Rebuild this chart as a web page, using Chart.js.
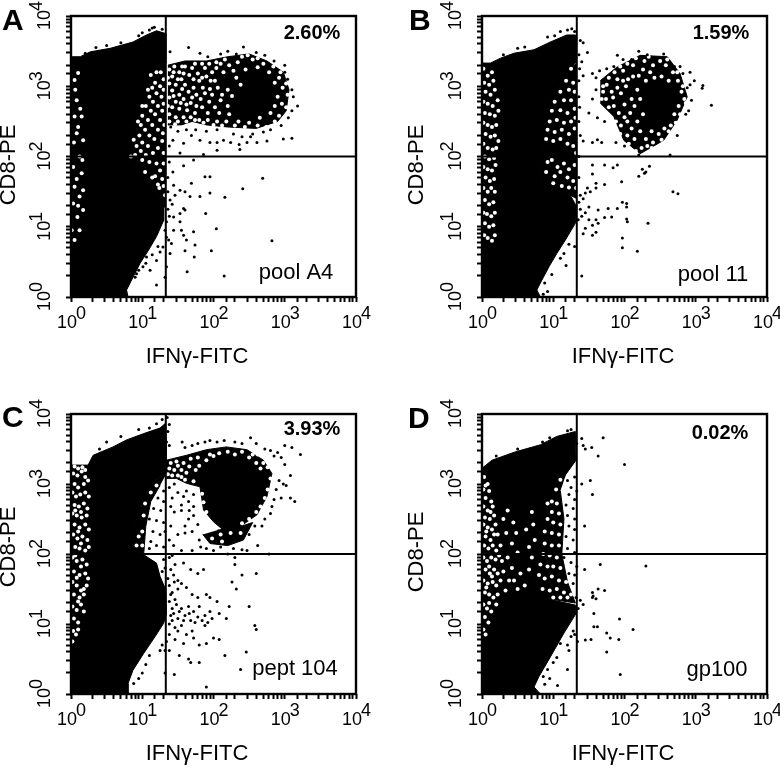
<!DOCTYPE html>
<html>
<head>
<meta charset="utf-8">
<title>IFN-gamma dot plots</title>
<script src="https://cdn.jsdelivr.net/npm/chart.js@4"></script>
<style>
    html, body { margin: 0; background: #fff; }
    body { position: relative; width: 780px; height: 768px; overflow: hidden; }
    canvas { position: absolute; }
    .letter { position: absolute; font: bold 30px "Liberation Sans", Arial, sans-serif; line-height: 30px; color: #000; }
</style>
</head>
<body>
<canvas id="panelA" style="left:0;top:0"></canvas>
<canvas id="panelB" style="left:400px;top:0"></canvas>
<canvas id="panelC" style="left:0;top:398px"></canvas>
<canvas id="panelD" style="left:400px;top:398px"></canvas>
<div class="letter" style="left:2px;top:5px">A</div>
<div class="letter" style="left:409px;top:5px">B</div>
<div class="letter" style="left:2px;top:402px">C</div>
<div class="letter" style="left:408px;top:403px">D</div>
<script>
// all coordinates below are log10 fluorescence: [IFNg-FITC, CD8-PE]
// mass = solid population outline, zone = mottled area, holes = white gaps in them, dots = single events
const tickDecades = [0, 1, 2, 3, 4];
const gateFitc = 21.4;
const gatePe = 100;
const xTitle = 'IFNγ-FITC';
const yTitle = 'CD8-PE';
const percents = ['2.60%', '1.59%', '3.93%', '0.02%'];
const stimuli = ['pool A4', 'pool 11', 'pept 104', 'gp100'];

// --- panel A ---
const massA = [[-0.04,0],[-0.04,3.42],[0.13,3.42],[0.27,3.49],[0.55,3.54],[0.87,3.63],[1.06,3.73],[1.2,3.79],[1.33,3.75],[1.33,3.33],[1.2,3.25],[1.11,3.09],[1.06,2.85],[0.97,2.61],[0.92,2.33],[0.85,2.09],[0.8,1.9],[0.97,1.81],[1.11,1.66],[1.2,1.47],[1.3,1.28],[1.3,1.09],[1.2,0.86],[1.09,0.67],[0.97,0.48],[0.85,0.24],[0.78,0.1],[0.8,0]];
const zoneA1 = [[1.33,3.33],[1.2,3.25],[1.11,3.09],[1.06,2.85],[0.97,2.61],[0.92,2.33],[0.85,2.09],[0.8,1.9],[0.97,1.81],[1.11,1.66],[1.2,1.47],[1.3,1.28],[1.33,1.28]];
const zoneA2 = [[1.36,3.3],[1.6,3.36],[1.9,3.36],[2.2,3.42],[2.5,3.46],[2.75,3.36],[2.98,3.2],[3.06,2.95],[3.02,2.65],[2.9,2.5],[2.6,2.4],[2.2,2.42],[1.9,2.45],[1.7,2.5],[1.55,2.45],[1.36,2.45]];
const holesA = [[0.05,3.09],[0.1,3.19],[0.08,2.8],[0.05,2.57],[0.15,2.57],[0.1,2.42],[0.08,2.33],[0.17,2.23],[0.12,2],[0.03,1.85],[0.15,1.76],[0.05,1.57],[0.12,1.43],[0.03,1.33],[0.17,1.24],[0.09,1.14],[0.01,0.95],[0.12,0.95],[0.05,0.81],[0.06,2.95],[0.13,2.68],[0.04,2.2],[0.16,1.95],[0.08,1.68],[0.17,1.52],[0.1,1.3],
[1.26,3.2],[1.3,3.1],[1.18,3.05],[1.25,3],[1.14,2.98],[1.3,2.95],[1.2,2.9],[1.1,2.85],[1.27,2.85],[1.15,2.78],[1.3,2.75],[1.05,2.72],[1.22,2.72],[1.12,2.65],[1.28,2.65],[1,2.58],[1.18,2.6],[1.08,2.52],[1.25,2.52],[1.31,2.45],[0.98,2.45],[1.14,2.45],[1.04,2.38],[1.22,2.38],[1.29,2.33],[0.96,2.3],[1.1,2.3],[1.17,2.25],[1.28,2.22],[1,2.2],[0.92,2.15],[1.08,2.15],[1.22,2.12],[0.98,2.08],[1.15,2.05],[1.3,2.05],[0.9,2.02],[1.05,2.02],[1,1.95],[1.1,1.92],[1.2,1.9],[1.3,1.9],[1.18,1.72],[1.28,1.68],[1.22,1.6],[1.3,1.58],[1.25,1.8],[1.32,1.45],
[1.38,3.24],[1.45,3.28],[1.52,3.2],[1.6,3.28],[1.7,3.26],[1.78,3.18],[1.88,3.26],[1.98,3.2],[2.1,3.32],[1.42,3.14],[1.55,3.1],[1.66,3.16],[1.8,3.08],[1.9,3.14],[2.02,3.08],[2.14,3.2],[1.38,3.04],[1.47,3.02],[1.6,3.02],[1.72,2.98],[1.85,2.98],[1.95,2.96],[2.06,2.98],[1.42,2.94],[1.52,2.88],[1.65,2.92],[1.76,2.88],[1.88,2.9],[1.38,2.84],[1.47,2.78],[1.58,2.82],[1.68,2.76],[1.42,2.7],[1.52,2.68],[1.63,2.66],[1.74,2.62],[1.38,2.6],[1.47,2.56],[1.58,2.56],[1.68,2.56],[1.8,2.52],[1.92,2.52],[2.05,2.5],[2.18,2.5],[1.94,2.78],[2.02,2.7],[1.92,2.62],[2.08,2.62],[2.1,2.8],[2.2,2.95],[2.32,3.12],[2.45,3.24],[2.62,3.27],[2.78,3.2],[2.86,3.05],[2.9,2.85],[2.86,2.72],[2.8,2.62],[2.65,2.55],[2.2,2.72],[2.26,2.86],[2.38,3.02],[2.12,2.88],[2.22,3.3],[2.34,3.34],[2.55,3.38],[2.7,3.32],[2.92,3.12],[2.97,2.98],[2.96,2.75],[2.5,2.48],[2.35,2.5],[2.22,2.6],[2.28,3.22]];
const edgeHolesA = [[1.44,3.2],[1.56,3.28],[1.74,3.32],[1.84,3.32],[1.94,3.32],[2.04,3.26],[1.58,3.18],[1.72,3.1],[1.84,3.12],[1.96,3.08],[1.5,3.1],[1.36,3.12],[1.44,2.86],[1.56,2.96],[1.7,2.84],[1.82,2.82],[1.98,2.88],[1.54,2.76],[1.62,2.74],[1.76,2.72],[1.84,2.7],[1.36,2.72],[1.5,2.5],[1.62,2.5],[1.74,2.52],[1.86,2.48],[2,2.45],[2.12,2.44],[2.3,2.44],[2.44,2.42],[2.62,2.44],[2.74,2.42],[2.86,2.5],[2.92,2.58],[3.02,2.7],[3.04,2.88],[3.02,3.04],[2.94,3.2],[2.84,3.28],[2.4,3.42],[2.48,3.44],[2.62,3.4],[2.16,3.38],[2.04,3.34],[1.46,2.46],[1.38,2.5],[1.12,3.16],[1.2,3.2],[1.08,2.95],[1,2.72],[0.94,2.5],[0.88,2.24],[0.84,2],[1.04,1.78],[1.14,1.7],[1.24,1.55]];
const dotsA = [[1.39,3.49],[1.65,3.55],[2.42,3.56],[1.81,3.47],[1.92,3.42],[2.1,3.46],[2.2,3.5],[2.32,3.46],[2.6,3.48],[2.72,3.44],[2.85,3.36],[3,3.3],[3,3.2],[3.04,3.1],[3.1,2.95],[3.12,2.85],[3.18,2.72],[3.1,2.65],[3.05,2.55],[2.95,2.44],[1.4,2.42],[1.5,2.36],[1.62,2.38],[1.75,2.38],[1.9,2.36],[2.05,2.38],[2.28,2.32],[2.4,2.28],[2.55,2.32],[2.7,2.35],[2.8,2.38],[1.43,2.23],[1.58,2.19],[1.69,2.3],[1.81,2.23],[1.95,2.2],[2.05,2.2],[2.14,2.23],[2.24,2.2],[2.36,2.17],[2.47,2.2],[2.61,2.2],[2.75,2.22],[2.98,2.25],[3.1,2.26],[1.53,2.05],[1.86,2.03],[2.05,2.09],[1.38,2.15],[2.37,2.1],[2.52,2.28],[2.69,1.69],[2.41,1.54],[2.16,1.42],[1.95,1.48],[1.89,1.19],[2.04,0.97],[1.97,0.66],[2.82,0.8],[2.15,0.3],[1.2,0.17],[1.63,0.36],[1.73,0.57],[1.6,0.66],[1.74,0.74],[1.72,0.93],[1.58,0.88],[1.62,0.81],[1.55,0.95],[1.53,1.07],[1.44,0.95],[1.41,0.76],[1.39,0.62],[1.37,0.81],[1.58,1.26],[1.6,1.24],[1.53,1.19],[1.44,1.14],[1.39,1.38],[1.46,1.45],[1.44,1.59],[1.53,1.52],[1.6,1.5],[1.69,1.62],[1.67,1.43],[1.81,1.43],[1.43,1.78],[1.58,1.87],[1.72,1.95],[1.95,1.71],[1.88,1.71],[1.34,1.07],[1.32,0.95],[1.29,0.71],[1.25,0.64],[1.2,0.52],[1.06,0.57],[1.01,0.43],[0.92,0.33],[0.9,0.28],[1.11,0.38],[1.34,0.43],[1.32,0.28],[1.36,1.25],[1.38,1.15],[1.42,1.32],[1.36,1.5],[1.36,1.7],[1.38,1.92],[1.34,0.85],[1.22,0.72],[1.14,0.6],[1.05,0.48],[0.95,0.38],
[0.2,3.47],[0.35,3.55],[0.5,3.58],[0.7,3.62],[0.95,3.72],[1,3.76],[1.1,3.8],[1.17,3.84],[1.28,3.81],[1.14,3.83]];

// --- panel B ---
const massB = [[-0.03,0],[-0.03,3.33],[0.12,3.33],[0.26,3.4],[0.45,3.47],[0.73,3.52],[0.96,3.63],[1.19,3.73],[1.31,3.73],[1.31,3.33],[1.19,3.18],[1.1,3.04],[0.96,2.85],[0.89,2.61],[0.87,2.23],[0.82,1.85],[0.84,1.62],[1.01,1.5],[1.24,1.45],[1.33,1.28],[1.31,1.05],[1.17,0.81],[1.05,0.62],[0.94,0.43],[0.84,0.24],[0.77,0.1],[0.82,0]];
const zoneB1 = [[1.33,3.33],[1.19,3.18],[1.1,3.04],[0.96,2.85],[0.89,2.61],[0.87,2.23],[0.82,1.85],[0.84,1.62],[1.01,1.5],[1.24,1.45],[1.33,1.4]];
const zoneB2 = [[1.66,3.08],[1.89,3.27],[2.22,3.44],[2.6,3.42],[2.78,3.18],[2.88,2.85],[2.74,2.52],[2.55,2.23],[2.22,2.04],[1.99,2.23],[1.85,2.57],[1.66,2.76]];
const holesB = [[0.02,3.25],[0.08,3.15],[0.14,3.2],[0.03,3.05],[0.1,3.02],[0.16,3.08],[0.05,2.92],[0.12,2.88],[0.18,2.95],[0.02,2.78],[0.08,2.75],[0.15,2.72],[0.22,2.8],[0.04,2.62],[0.11,2.6],[0.18,2.58],[0.23,2.65],[0.02,2.48],[0.08,2.45],[0.14,2.42],[0.2,2.45],[0.05,2.32],[0.12,2.28],[0.18,2.3],[0.23,2.22],[0.02,2.18],[0.08,2.12],[0.15,2.1],[0.2,2.12],[0.04,2],[0.1,1.96],[0.17,1.98],[0.02,1.85],[0.08,1.82],[0.14,1.8],[0.19,1.88],[0.05,1.7],[0.11,1.65],[0.17,1.68],[0.02,1.55],[0.08,1.5],[0.13,1.55],[0.18,1.5],[0.04,1.38],[0.1,1.32],[0.16,1.35],[0.02,1.2],[0.07,1.18],[0.13,1.15],[0.18,1.2],[0.04,1.05],[0.1,1],[0.16,1.02],[0.03,0.88],[0.08,0.84],[0.14,0.8],[0.18,0.88],
[1.25,3.25],[1.18,3.08],[1.28,3.05],[1.1,2.92],[1.22,2.95],[1.3,2.92],[1.02,2.78],[1.15,2.8],[1.25,2.8],[0.98,2.65],[1.1,2.66],[1.2,2.62],[1.3,2.68],[0.95,2.5],[1.05,2.52],[1.15,2.48],[1.25,2.5],[1.31,2.55],[0.92,2.38],[1.02,2.35],[1.12,2.38],[1.22,2.32],[1.3,2.4],[0.9,2.25],[1,2.22],[1.1,2.25],[1.2,2.18],[1.28,2.15],[1.32,2.05],[0.92,1.92],[0.98,1.95],[1.06,1.85],[1.15,1.9],[1.22,1.82],[1.3,1.88],[0.9,1.78],[1.02,1.72],[1.1,1.78],[1.2,1.7],[1.28,1.65],[1.32,1.55],[1,1.62],[1.12,1.58],[1.22,1.56],
[1.75,3.02],[1.82,2.92],[1.9,3.1],[1.98,3.22],[2.05,3.1],[2.12,3.3],[2.2,3.15],[2.28,3.36],[2.4,3.3],[2.5,3.36],[2.58,3.3],[2.68,3.2],[2.75,3.08],[1.74,2.82],[1.85,2.72],[1.95,2.9],[2.02,3],[2.1,2.82],[2.18,2.95],[2.3,3.08],[2.42,3.12],[2.52,3.14],[2.62,3.08],[2.8,2.92],[2.84,2.82],[1.92,2.62],[2,2.74],[2.08,2.62],[2.14,2.72],[2.22,2.82],[2.76,2.72],[2.7,2.6],[1.95,2.44],[2.04,2.5],[2.1,2.4],[2.18,2.5],[2.26,2.6],[2.65,2.44],[2.56,2.4],[2.48,2.32],[2.04,2.3],[2.14,2.25],[2.22,2.36],[2.3,2.25],[2.4,2.2],[2.38,2.36],[2.24,2.12],[2.32,2.15]];
const edgeHolesB = [[1.7,3],[1.78,3.12],[1.86,3.2],[1.94,3.28],[2.04,3.32],[2.16,3.4],[2.34,3.42],[2.6,3.38],[2.74,3.2],[2.82,3],[2.86,2.76],[2.78,2.6],[2.72,2.48],[2.62,2.36],[2.52,2.24],[2.38,2.12],[2.16,2.08],[2.06,2.18],[1.94,2.32],[1.88,2.5],[1.78,2.7],[1.68,2.82],[1.7,2.92],[1.84,2.84],[1.9,2.98],[1.98,3.08],[2.12,3.14],[2.26,3.24],[2.36,3.2],[2,2.56]];
const dotsB = [[1.9,3.44],[2.2,3.5],[2.32,3.45],[1.98,3.38],[2.1,3.38],[2.55,3.46],[2.7,3.28],[1.55,3.18],[1.65,3.22],[1.75,3.25],[1.85,3.28],[1.6,3.12],[2.82,3.18],[2.92,3.2],[2.78,3.28],[2.98,3.08],[3.1,3.01],[3.09,2.97],[3.22,2.73],[2.92,3.02],[2.88,2.98],[2.94,2.8],[2.9,2.65],[2.86,2.6],[1.55,2.82],[1.6,2.95],[1.62,2.55],[1.5,2.62],[1.72,2.5],[1.42,2.22],[1.55,2.2],[1.62,2.24],[1.68,2.2],[1.88,2.2],[2,2.15],[2.64,2.02],[2.74,2.3],[2.2,2.02],[1.55,1.88],[1.72,1.88],[1.84,1.84],[1.9,1.88],[2.25,1.82],[2.3,1.78],[2.35,1.86],[2.2,1.72],[2.28,1.76],[1.96,1.64],[1.55,1.75],[1.6,1.62],[1.48,1.55],[1.52,1.5],[1.6,1.55],[1.72,1.6],[2.68,1.5],[2.75,1.47],[2.03,1.28],[2.03,1.11],[1.63,1.24],[1.77,1.26],[1.9,1.26],[1.97,1.35],[2.03,1.33],[1.6,1.1],[1.63,1.05],[1.5,1.1],[1.55,1.02],[1.45,0.98],[1.42,0.9],[1.55,0.88],[1.6,0.92],[1.4,1.15],[1.45,1.2],[1.5,1.28],[1.72,1.13],[1.82,1.14],[2.04,1.07],[2.33,1.05],[1.97,0.84],[1.97,0.7],[2.18,0.65],[1.4,0.3],[1.38,1.45],[1.42,1.4],[1.45,1.48],[1.36,1.35],[1.38,1.25],[1.35,1.1],[1.22,0.75],[1.3,0.72],[1.15,0.62],[1.1,0.55],[1.18,0.45],[0.98,0.32],[0.88,0.2],[0.92,0.08],[0.86,0.04],[1.32,3.6],[1.38,3.65],[1.42,3.62],[1.48,3.48],[1.36,3.45],[1.4,3.35],[1.37,3.25],[1.42,3.15],[1.36,3.08],[1.36,2.85],[1.37,2.7],[1.36,2.5],[1.38,2.3],[1.36,2],[1.36,1.7],
[1.1,3.78],[1.2,3.8],[1.26,3.82],[0.92,3.7],[1.02,3.72],[0.5,3.54],[0.3,3.45],[0.6,3.56],[1.3,3.78]];

// --- panel C ---
const massC = [[-0.04,0],[-0.04,3.27],[0.24,3.27],[0.31,3.41],[0.59,3.53],[0.78,3.63],[1.02,3.72],[1.25,3.8],[1.33,3.87],[1.34,3.44],[1.34,3.15],[1.2,3.06],[1.06,2.87],[0.97,2.68],[0.87,2.34],[0.87,2.06],[1.02,1.99],[1.2,1.87],[1.25,1.68],[1.33,1.49],[1.34,1.15],[1.3,1.01],[1.18,0.82],[1.02,0.58],[0.87,0.34],[0.8,0.15],[0.8,0]];
const coreC = [[1.34,3.34],[1.62,3.41],[1.9,3.49],[2.18,3.53],[2.47,3.49],[2.7,3.34],[2.82,3.15],[2.75,2.82],[2.61,2.56],[2.37,2.39],[2.14,2.34],[2,2.46],[1.86,2.63],[1.81,2.96],[1.62,3.01],[1.48,3.08],[1.34,3.08]];
const zoneC1 = [[1.34,3.15],[1.2,3.06],[1.06,2.87],[0.97,2.68],[0.87,2.34],[0.87,2.06],[1.02,1.99],[1.05,2.4],[1.12,2.75],[1.25,2.98]];
const zoneC2 = [[2.05,2.34],[2.37,2.39],[2.55,2.45],[2.42,2.2],[2.2,2.12],[1.95,2.15],[1.85,2.28]];
const holesC = [[1.4,3.3],[1.48,3.32],[1.58,3.3],[1.68,3.36],[1.78,3.38],[1.45,3.2],[1.55,3.2],[1.66,3.25],[1.75,3.2],[1.42,3.12],[1.55,3.1],[1.95,3.42],[2.08,3.44],[2.3,3.42],[2.5,3.38],[2.6,3.3],[2.66,3.22],[2.55,3.42],[1.38,3.22],[1.5,3.26],[1.62,3.16],
[0.05,3.25],[0.1,3.22],[0.16,3.24],[0.2,3.2],[0.03,3.15],[0.09,3.12],[0.15,3.18],[0.2,3.1],[0.05,3],[0.1,2.95],[0.18,3],[0.24,3.05],[0.02,2.88],[0.07,2.82],[0.13,2.85],[0.2,2.88],[0.25,2.82],[0.05,2.7],[0.11,2.68],[0.18,2.72],[0.23,2.65],[0.02,2.58],[0.08,2.55],[0.15,2.52],[0.22,2.55],[0.05,2.42],[0.12,2.38],[0.2,2.42],[0.25,2.35],[0.03,2.28],[0.09,2.22],[0.16,2.25],[0.23,2.2],[0.06,2.1],[0.12,2.08],[0.2,2.05],[0.25,2.1],[0.02,1.95],[0.08,1.9],[0.16,1.92],[0.22,1.85],[0.04,1.75],[0.12,1.7],[0.2,1.72],[0.24,1.65],[0.02,1.6],[0.08,1.55],[0.18,1.5],[0.22,1.55],[0.04,1.42],[0.12,1.38],[0.18,1.42],[0.02,1.25],[0.08,1.2],[0.14,1.28],[0.18,1.18],[0.04,1.08],[0.1,1.02],[0.03,0.9],[0.07,0.85],[0.1,0.92],[0.02,0.75],[0.06,2.62],[0.14,2.6],[0.1,2.32],[0.14,2.15],[0.06,1.98],[0.14,1.82],[0.08,1.66],[0.14,1.48],[0.1,1.32],
[0.95,2.25],[0.92,2.12],[1,2.32],[1,2.12],[1.02,2.55],[1.04,2.72],[1.12,2.88],[1.2,2.98],[2.1,2.28],[2.24,2.3],[2.38,2.3],[1.98,2.22],[2.12,2.18]];
const edgeHolesC = [[2.76,3.24],[2.8,3.08],[2.76,2.92],[2.72,2.8],[2.66,2.68],[2.6,2.6],[2.5,2.5],[2.4,2.44],[2.62,3.42],[2.7,3.3],[1.86,2.74],[1.9,2.6],[1.84,2.86],[1.72,3.04],[1.6,3.06],[1.5,3.12],[1.36,3.14],[1.8,3.26],[1.9,3.34],[2,3.4],[2.2,3.46],[2.4,3.46]];
const dotsC = [[1.35,3.95],[1.38,3.85],[1.36,3.75],[1.34,3.6],[1.38,3.55],[1.56,3.6],[1.6,3.52],[1.7,3.55],[1.78,3.58],[1.88,3.6],[1.95,3.62],[2.05,3.6],[2.15,3.62],[2.3,3.6],[2.4,3.58],[2.52,3.66],[2.6,3.58],[2.72,3.5],[2.8,3.48],[2.9,3.45],[3,3.55],[3.1,3.52],[3.22,3.42],[2.85,3.4],[2.95,3.38],[3,3.28],[3.08,3.12],[2.92,3.05],[2.98,3],[3.02,2.98],[2.88,2.92],[2.95,2.8],[3.08,2.8],[3.14,2.75],[2.85,2.78],[2.82,2.68],[2.8,2.58],[2.72,2.5],[2.68,2.4],[2.58,2.4],[2.5,2.28],[2.62,2.12],[2.78,2],[2.47,2.05],[2.4,2.06],[2.3,1.95],[2.28,2.08],[2.2,2],[2.1,2.1],[2,2.05],[1.9,2.08],[1.82,2.1],[1.7,2.05],[1.42,1.98],[1.55,2.05],[1.65,2.5],[1.72,2.55],[1.78,2.42],[1.6,2.4],[1.5,2.28],[1.4,2.4],[1.45,2.6],[1.55,2.7],[1.65,2.75],[1.72,2.85],[1.42,2.8],[1.5,2.88],[1.62,2.9],[1.38,2.95],[1.45,3],[1.55,2.62],[1.4,2.68],[1.58,2.82],[1.72,2.68],[1.66,2.62],[1.6,2.3],[1.7,2.32],[1.8,2.2],[1.38,2.2],[1.44,2.12],[1.3,2.9],[1.3,2.75],[1.22,2.8],[1.16,2.65],[1.26,2.62],[1.1,2.5],[1.2,2.48],[1.3,2.45],[1.15,2.32],[1.25,2.28],[1.32,2.32],[1.12,2.18],[1.1,2.08],[1.2,2.12],[1.3,2.1],[1.3,1.92],[1.32,1.8],[1.28,1.75],[1.38,1.95],[1.4,1.78],[1.46,1.85],[1.58,1.87],[1.68,1.78],[1.78,1.72],[1.86,1.78],[2.3,1.85],[2.4,1.7],[2.6,1.72],[2.26,1.6],[2.32,1.5],[1.38,1.55],[1.45,1.6],[1.42,1.45],[1.5,1.5],[1.55,1.58],[1.62,1.52],[1.7,1.42],[1.78,1.38],[1.9,1.42],[1.95,1.38],[2.05,1.32],[2.22,1.25],[2.5,1.25],[1.38,1.32],[1.42,1.22],[1.48,1.28],[1.55,1.22],[1.65,1.25],[1.72,1.18],[1.8,1.25],[1.88,1.12],[1.95,1.18],[1.98,1.08],[1.4,1.12],[1.5,1.08],[1.6,1.12],[1.68,1.05],[1.78,1.1],[1.88,0.98],[2.08,1.15],[2.18,1.08],[1.38,1],[1.46,0.95],[1.55,0.98],[1.62,0.85],[1.7,0.9],[1.38,0.85],[1.46,0.78],[1.58,0.72],[1.72,0.8],[1.8,0.7],[1.9,0.72],[2,0.8],[2.08,0.78],[2.58,0.98],[2.6,0.92],[1.34,0.75],[1.28,0.7],[1.32,0.62],[1.25,0.62],[1.38,0.62],[1.52,0.55],[1.65,0.5],[1.68,0.45],[1.8,0.45],[2.16,0.55],[2.46,0.6],[2.38,0.35],[1.1,0.55],[1.05,0.42],[1,0.3],[0.95,0.22],[0.88,0.15],[1.32,0.3],[1.45,0.28],[1.9,0.1],[1.44,1.15],[1.52,1.18],[1.58,1.05],[1.66,1.15],[1.74,1.02],[1.84,1.05],[1.92,1.02],[1.42,1.05],[1.5,0.9],[1.4,1.42],[1.46,1.35],[1.36,1.65],[1.44,1.7],[1.5,1.62],
[0.5,3.6],[0.7,3.68],[0.95,3.78],[1.1,3.8],[1.2,3.86],[0.4,3.5],[1.28,3.92]];

// --- panel D ---
const massD = [[-0.03,0],[-0.03,3.2],[0.14,3.34],[0.47,3.46],[0.82,3.56],[1.05,3.68],[1.31,3.75],[1.32,3.34],[1.15,3.1],[1.05,2.82],[0.87,2.68],[0.82,2.34],[0.8,1.96],[0.73,1.68],[0.87,1.37],[1.31,1.27],[1.32,1.15],[1.15,0.87],[0.96,0.53],[0.8,0.25],[0.73,0.1],[0.82,0]];
const zoneD1 = [[1.2,3.2],[1.15,3.1],[1.05,2.82],[0.87,2.68],[0.82,2.34],[0.8,1.96],[0.73,1.68],[0.87,1.37],[1.31,1.3],[1.2,1.6],[1.12,2],[1.15,2.5],[1.1,2.9]];
const holesD = [[0.34,2.3],[0.42,2.15],[0.36,1.95],[0.3,1.75],[0.38,1.62],[0.33,1.48],[0.44,2.45],[0.3,2.5],[0.66,1.78],[0.7,1.95],[0.6,1.55],[0.5,1.5],[0.74,2.2],[0.72,2.42],
[0.03,3.1],[0.08,3],[0.02,2.92],[0.1,2.9],[0.05,2.8],[0.13,2.75],[0.02,2.68],[0.08,2.62],[0.15,2.68],[0.04,2.52],[0.11,2.5],[0.17,2.55],[0.02,2.42],[0.08,2.38],[0.14,2.35],[0.19,2.42],[0.05,2.25],[0.12,2.2],[0.17,2.28],[0.03,2.12],[0.09,2.08],[0.15,2.12],[0.2,2.05],[0.02,1.95],[0.07,1.9],[0.13,1.95],[0.19,1.92],[0.05,1.78],[0.11,1.72],[0.17,1.78],[0.22,1.72],[0.02,1.62],[0.08,1.58],[0.15,1.6],[0.2,1.55],[0.04,1.45],[0.1,1.42],[0.16,1.38],[0.02,1.28],[0.07,1.22],[0.13,1.18],[0.04,1.1],[0.09,1.02],[0.02,0.92],[0.05,0.85],[0.05,2.98],[0.12,2.6],[0.06,2.32],[0.1,1.82],[0.14,1.68],[0.06,1.52],[0.22,2.28],[0.24,1.98],[0.26,1.62],[0.22,1.42],[0.1,1.3],[0.2,1.28],
[1.05,2.72],[0.98,2.6],[1.08,2.58],[0.92,2.5],[1,2.45],[1.1,2.42],[0.88,2.32],[0.98,2.3],[1.08,2.28],[0.88,2.15],[0.98,2.12],[1.08,2.12],[0.86,2],[0.95,1.98],[1.05,1.95],[0.82,1.85],[0.92,1.82],[1,1.82],[1.1,1.8],[0.8,1.7],[0.88,1.65],[0.98,1.68],[1.08,1.62],[1.18,1.6],[0.85,1.5],[0.95,1.48],[1.05,1.5],[1.15,1.45],[1.25,1.42],[1.1,1.38],[1.2,1.38],[1,1.38],[1.14,2.92],[1.1,3.06]];
const edgeHolesD = [[0.98,2.75],[0.92,2.72],[1.04,2.92],[0.36,2.62],[0.48,2.3],[0.5,2.02],[0.42,1.8],[0.54,1.72],[0.66,2.1],[0.62,2.35],[0.7,2.6],[0.45,1.62],[0.26,2.12],[0.28,1.9]];
const dotsD = [[1.4,3.65],[1.33,3.58],[1.45,3.5],[1.42,3.55],[1.54,3.52],[1.7,3.66],[1.63,3.4],[2,3.28],[1.55,2.85],[1.44,2.4],[1.52,3.05],[1.4,3],[1.33,2.9],[1.2,3.05],[1.25,2.95],[1.3,3.1],[1.22,2.85],[1.3,2.78],[1.18,2.7],[1.28,2.65],[1.2,2.55],[1.3,2.5],[1.22,2.4],[1.3,2.35],[1.18,2.25],[1.28,2.2],[1.2,2.08],[1.3,2.02],[1.15,1.95],[1.25,1.88],[1.33,1.82],[1.22,1.72],[1.3,1.7],[1.28,1.58],[1.32,1.38],[1.38,1.34],[1.42,1.28],[1.35,1.22],[1.55,1.45],[1.63,1.5],[1.56,1.4],[1.6,1.36],[1.72,1.48],[1.55,1.38],[1.44,1.78],[1.66,1.85],[2.3,1.83],[1.57,1.15],[1.93,1.07],[2.12,0.92],[1.57,0.96],[1.62,0.96],[1.75,0.87],[1.8,0.8],[1.92,0.78],[1.45,0.77],[1.53,0.78],[1.75,0.6],[1.94,0.28],[1.2,0.7],[1.25,0.82],[1.28,0.9],[1.34,0.75],[1.1,0.72],[1.3,0.85],[1.22,0.62],[1.05,0.52],[1,0.45],[0.92,0.35],[0.86,0.25],[0.95,0.22],[1.06,0.12],[1.2,0.35],[0.88,0.14],
[0.95,3.66],[1.2,3.76],[1.25,3.78],[0.85,3.6],[0.5,3.5],[0.2,3.4]];

const panels = [
    { id: 'panelA', left: 71, top: 16, bottom: 87, solids: [massA], zones: [zoneA1, zoneA2], holes: [...holesA, ...edgeHolesA], dots: dotsA,
      titleX: 197, titleY: 357, peX: 9, peY: 165, pct: [312, 33], stim: [296, 273] },
    { id: 'panelB', left: 82, top: 16, bottom: 87, solids: [massB], zones: [zoneB1, zoneB2], holes: [...holesB, ...edgeHolesB], dots: dotsB,
      titleX: 223, titleY: 357, peX: 17, peY: 165, pct: [321, 33], stim: [313, 275] },
    { id: 'panelC', left: 71, top: 16, bottom: 74, solids: [massC, coreC], zones: [zoneC1, zoneC2], holes: [...holesC, ...edgeHolesC], dots: dotsC,
      titleX: 197, titleY: 356, peX: 9, peY: 149, pct: [312, 31], stim: [295, 271] },
    { id: 'panelD', left: 82, top: 16, bottom: 74, solids: [massD], zones: [zoneD1], holes: [...holesD, ...edgeHolesD], dots: dotsD,
      titleX: 223, titleY: 356, peX: 17, peY: 154, pct: [320, 35], stim: [317, 272] }
];

const toPoints = list => list.map(([x, y]) => ({ x: 10 ** x, y: 10 ** y }));

const panelText = {
    id: 'panelText',
    afterDraw(chart) {
        const { ctx, chartArea: area, scales } = chart;
        const cfg = chart.options.plugins.panelText;
        ctx.save();
        ctx.fillStyle = '#000';
        ctx.strokeStyle = '#000';
        ctx.lineWidth = 2.4;
        ctx.strokeRect(area.left, area.top, area.right - area.left, area.bottom - area.top);

        ctx.textBaseline = 'alphabetic';
        ctx.textAlign = 'left';
        tickDecades.forEach(d => {
            const value = 10 ** d;
            // x axis label: 10 with the exponent raised
            ctx.font = '18px "Liberation Sans", Arial, sans-serif';
            const px = scales.x.getPixelForValue(value);
            ctx.fillText('10', px - 14, area.bottom + 31);
            ctx.fillText(String(d), px + 5, area.bottom + 22);
            // y axis label, turned a quarter to the left
            const py = scales.y.getPixelForValue(value);
            ctx.save();
            ctx.translate(area.left - 21, py);
            ctx.rotate(-Math.PI / 2);
            ctx.fillText('10', -14, 0);
            ctx.fillText(String(d), 5, -8);
            ctx.restore();
        });

        ctx.font = '22px "Liberation Sans", Arial, sans-serif';
        ctx.textAlign = 'center';
        ctx.textBaseline = 'middle';
        ctx.fillText(xTitle, cfg.titleX, cfg.titleY);
        ctx.fillText(cfg.stimulus, cfg.stim[0], cfg.stim[1]);
        ctx.save();
        ctx.translate(cfg.peX, cfg.peY);
        ctx.rotate(-Math.PI / 2);
        ctx.fillText(yTitle, 0, 0);
        ctx.restore();

        ctx.font = 'bold 20px "Liberation Sans", Arial, sans-serif';
        ctx.fillText(cfg.percent, cfg.pct[0], cfg.pct[1]);
        ctx.restore();
    }
};

function polygon(points, order) {
    return {
        data: toPoints(points), showLine: true, fill: 'shape', tension: 0,
        backgroundColor: '#000', borderColor: '#000', borderWidth: 1, pointRadius: 0, order
    };
}

function renderPanel(p, i) {
    const canvas = document.getElementById(p.id);
    const height = i < 2 ? 384 : 370;
    const width = 380;
    canvas.width = width;
    canvas.height = height;
    canvas.style.width = width + 'px';
    canvas.style.height = height + 'px';

    const datasets = [
        ...p.solids.map(s => polygon(s, 6)),
        ...p.zones.map(z => polygon(z, 5)),
        { data: toPoints(p.holes), backgroundColor: '#fff', borderWidth: 0, pointRadius: 2, order: 4 },
        { data: toPoints(p.dots), backgroundColor: '#000', borderWidth: 0, pointRadius: 1.5, order: 3 },
        { data: [{ x: gateFitc, y: 1 }, { x: gateFitc, y: 10000 }], showLine: true, borderColor: '#000', borderWidth: 2, pointRadius: 0, order: 1 },
        { data: [{ x: 1, y: gatePe }, { x: 10000, y: gatePe }], showLine: true, borderColor: '#000', borderWidth: 2, pointRadius: 0, order: 1 }
    ];

    new Chart(canvas, {
        type: 'scatter',
        data: { datasets },
        plugins: [panelText],
        options: {
            responsive: false,
            animation: false,
            layout: { padding: { top: p.top, right: width - p.left - 285, left: 0, bottom: 0 } },
            plugins: {
                legend: { display: false },
                tooltip: { enabled: false },
                panelText: { percent: percents[i], stimulus: stimuli[i], titleX: p.titleX, titleY: p.titleY, peX: p.peX, peY: p.peY, pct: p.pct, stim: p.stim }
            },
            scales: {
                x: {
                    type: 'logarithmic', min: 1, max: 10000,
                    afterFit: s => { s.height = p.bottom; },
                    border: { display: false },
                    grid: { drawOnChartArea: false, tickLength: 5, tickWidth: 2, tickColor: '#000' },
                    ticks: { autoSkip: false, maxRotation: 0, callback: () => '' }
                },
                y: {
                    type: 'logarithmic', min: 1, max: 10000,
                    afterFit: s => { s.width = p.left; },
                    border: { display: false },
                    grid: { drawOnChartArea: false, tickLength: 5, tickWidth: 2, tickColor: '#000' },
                    ticks: { autoSkip: false, callback: () => '' }
                }
            }
        }
    });
}

panels.forEach(renderPanel);
</script>
</body>
</html>
